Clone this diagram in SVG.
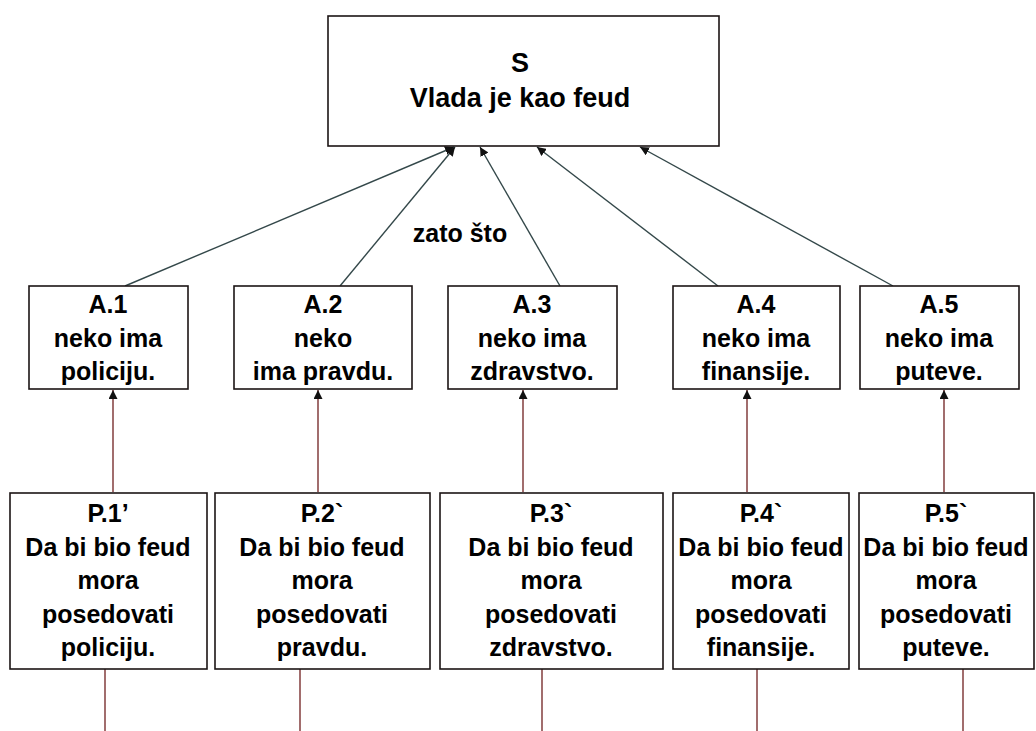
<svg xmlns="http://www.w3.org/2000/svg" width="1036" height="731" viewBox="0 0 1036 731">
  <style>
    .box { fill: #ffffff; stroke: #1c1414; stroke-width: 1.6; }
    .t { font-family: "Liberation Sans", Arial, sans-serif; font-weight: bold; font-size: 25px; fill: #000; text-anchor: middle; }
    .big { font-size: 27px; }
    .diag { stroke: #34484a; stroke-width: 1.4; fill: none; marker-end: url(#head); }
    .vert { stroke: #7a2f2f; stroke-width: 1.4; fill: none; marker-end: url(#head); }
    .tail { stroke: #7a2f2f; stroke-width: 1.4; fill: none; }
  </style>
  <defs>
    <marker id="head" viewBox="0 0 10 10" refX="10" refY="5" markerWidth="9" markerHeight="9" markerUnits="userSpaceOnUse" orient="auto">
      <path d="M0,0 L10,5 L0,10 z" fill="#111"/>
    </marker>
  </defs>
  <rect width="1036" height="731" fill="#ffffff"/>

  <!-- connectors -->
  <g id="connectors">
    <line class="diag" x1="125" y1="286" x2="454" y2="147"/>
    <line class="diag" x1="340" y1="286" x2="455" y2="147"/>
    <line class="diag" x1="560" y1="286" x2="480" y2="147"/>
    <line class="diag" x1="718" y1="286" x2="537" y2="147"/>
    <line class="diag" x1="893" y1="286" x2="640" y2="147"/>

    <line class="vert" x1="113" y1="492" x2="113" y2="390"/>
    <line class="vert" x1="318" y1="492" x2="318" y2="390"/>
    <line class="vert" x1="523" y1="492" x2="523" y2="390"/>
    <line class="vert" x1="747" y1="492" x2="747" y2="390"/>
    <line class="vert" x1="944" y1="492" x2="944" y2="390"/>

    <line class="tail" x1="105" y1="669" x2="105" y2="731"/>
    <line class="tail" x1="300" y1="669" x2="300" y2="731"/>
    <line class="tail" x1="542" y1="669" x2="542" y2="731"/>
    <line class="tail" x1="757" y1="669" x2="757" y2="731"/>
    <line class="tail" x1="963" y1="669" x2="963" y2="731"/>
  </g>

  <text class="t" x="460" y="242">zato što</text>

  <!-- claim -->
  <g id="S">
    <rect class="box" x="328" y="16" width="391" height="130"/>
    <text class="t big" x="520" y="72">S</text>
    <text class="t big" x="520" y="107">Vlada je kao feud</text>
  </g>

  <!-- arguments -->
  <g id="A1">
    <rect class="box" x="29" y="286" width="159" height="103"/>
    <text class="t" x="108" y="313">A.1</text>
    <text class="t" x="108" y="347">neko ima</text>
    <text class="t" x="108" y="380">policiju.</text>
  </g>
  <g id="A2">
    <rect class="box" x="234" y="286" width="178" height="103"/>
    <text class="t" x="323" y="313">A.2</text>
    <text class="t" x="323" y="347">neko</text>
    <text class="t" x="323" y="380">ima pravdu.</text>
  </g>
  <g id="A3">
    <rect class="box" x="448" y="286" width="169" height="103"/>
    <text class="t" x="532" y="313">A.3</text>
    <text class="t" x="532" y="347">neko ima</text>
    <text class="t" x="532" y="380">zdravstvo.</text>
  </g>
  <g id="A4">
    <rect class="box" x="673" y="286" width="167" height="103"/>
    <text class="t" x="756" y="313">A.4</text>
    <text class="t" x="756" y="347">neko ima</text>
    <text class="t" x="756" y="380">finansije.</text>
  </g>
  <g id="A5">
    <rect class="box" x="860" y="286" width="159" height="103"/>
    <text class="t" x="939" y="313">A.5</text>
    <text class="t" x="939" y="347">neko ima</text>
    <text class="t" x="939" y="380">puteve.</text>
  </g>

  <!-- premises -->
  <g id="P1">
    <rect class="box" x="10" y="493" width="197" height="176"/>
    <text class="t" x="108" y="522">P.1’</text>
    <text class="t" x="108" y="556">Da bi bio feud</text>
    <text class="t" x="108" y="589">mora</text>
    <text class="t" x="108" y="623">posedovati</text>
    <text class="t" x="108" y="656">policiju.</text>
  </g>
  <g id="P2">
    <rect class="box" x="215" y="493" width="215" height="176"/>
    <text class="t" x="322" y="522">P.2`</text>
    <text class="t" x="322" y="556">Da bi bio feud</text>
    <text class="t" x="322" y="589">mora</text>
    <text class="t" x="322" y="623">posedovati</text>
    <text class="t" x="322" y="656">pravdu.</text>
  </g>
  <g id="P3">
    <rect class="box" x="440" y="493" width="223" height="176"/>
    <text class="t" x="551" y="522">P.3`</text>
    <text class="t" x="551" y="556">Da bi bio feud</text>
    <text class="t" x="551" y="589">mora</text>
    <text class="t" x="551" y="623">posedovati</text>
    <text class="t" x="551" y="656">zdravstvo.</text>
  </g>
  <g id="P4">
    <rect class="box" x="673" y="493" width="176" height="176"/>
    <text class="t" x="761" y="522">P.4`</text>
    <text class="t" x="761" y="556">Da bi bio feud</text>
    <text class="t" x="761" y="589">mora</text>
    <text class="t" x="761" y="623">posedovati</text>
    <text class="t" x="761" y="656">finansije.</text>
  </g>
  <g id="P5">
    <rect class="box" x="859" y="493" width="175" height="176"/>
    <text class="t" x="946" y="522">P.5`</text>
    <text class="t" x="946" y="556">Da bi bio feud</text>
    <text class="t" x="946" y="589">mora</text>
    <text class="t" x="946" y="623">posedovati</text>
    <text class="t" x="946" y="656">puteve.</text>
  </g>
</svg>
